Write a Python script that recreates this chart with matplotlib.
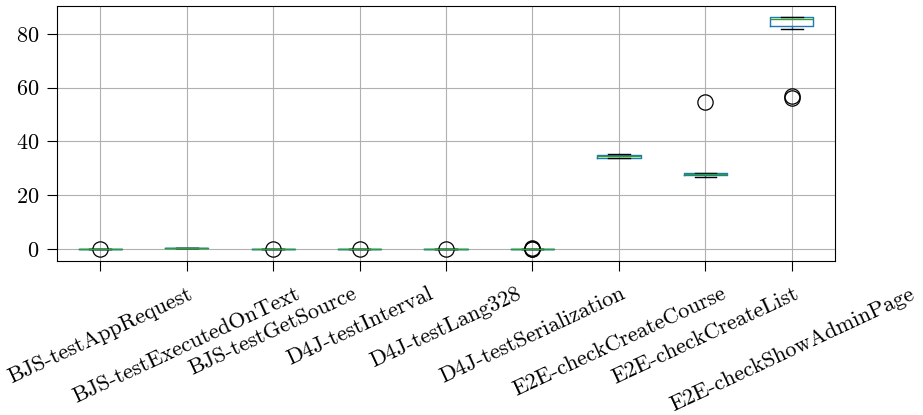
import matplotlib
matplotlib.use("Agg")
import matplotlib.pyplot as plt

plt.rcParams['font.family'] = ['cmr10', 'DejaVu Serif']
plt.rcParams['mathtext.fontset'] = 'cm'
plt.rcParams['axes.formatter.use_mathtext'] = True

# data (runtime per test)
labels = ["BJS-testAppRequest", "BJS-testExecutedOnText", "BJS-testGetSource",
          "D4J-testInterval", "D4J-testLang328", "D4J-testSerialization",
          "E2E-checkCreateCourse", "E2E-checkCreateList", "E2E-checkShowAdminPage"]
q1 = [0.0, 0.25, 0.0, 0.0, 0.0, 0.0, 33.8, 27.4, 83.0]
med = [0.05, 0.3, 0.05, 0.05, 0.05, 0.05, 34.5, 27.8, 85.6]
q3 = [0.1, 0.35, 0.1, 0.1, 0.1, 0.1, 35.0, 28.2, 86.2]
whislo = [0.0, 0.2, 0.0, 0.0, 0.0, 0.0, 33.7, 26.9, 81.9]
whishi = [0.1, 0.4, 0.1, 0.1, 0.1, 0.1, 35.2, 28.3, 86.3]
fliers = [[0.1], [], [0.1], [0.1], [0.1], [0.1, 0.15, 0.2], [], [54.6], [56.3, 57.0]]

stats = []
for i, name in enumerate(labels):
    stats.append(dict(label=name, q1=q1[i], med=med[i], q3=q3[i],
                      whislo=whislo[i], whishi=whishi[i], fliers=fliers[i]))

fig, ax = plt.subplots(figsize=(9.23, 4.15), dpi=100)
fig.subplots_adjust(left=0.0618, right=0.9047, top=0.9855, bottom=0.371)

ax.bxp(stats, widths=0.5,
       boxprops=dict(color='#1f77b4'),
       whiskerprops=dict(color='#1f77b4'),
       medianprops=dict(color='#2ca02c'),
       capprops=dict(color='k'),
       flierprops=dict(marker='o', markerfacecolor='none', markeredgecolor='k',
                       markersize=11, markeredgewidth=0.9))

ax.set_ylim(-4.5, 90.4)
ax.set_yticks([0, 20, 40, 60, 80])
ax.grid(True, color='#b0b0b0')
ax.set_axisbelow(True)
ax.tick_params(labelsize=16, length=7.5)
ax.tick_params(axis='y', pad=5)
ax.tick_params(axis='x', pad=9)
plt.setp(ax.get_xticklabels(), rotation=25, ha='center')

fig.savefig("out.png", dpi=100)
